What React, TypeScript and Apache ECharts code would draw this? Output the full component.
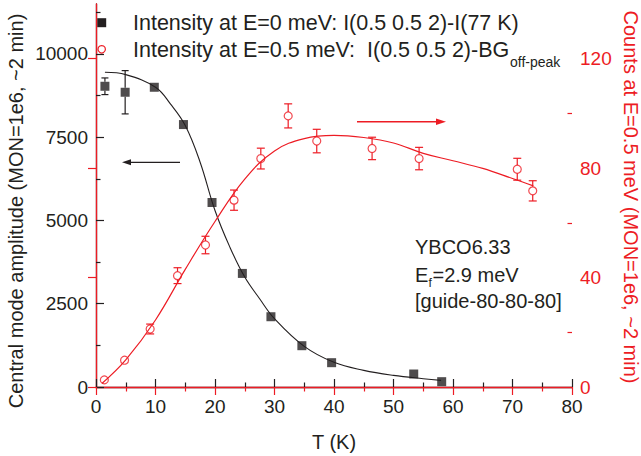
import React, { useEffect, useRef } from "react";
import * as echarts from "echarts";

// ---- data ----
// Black squares: central mode amplitude (left axis)
const blackT = [1.5, 4.9, 9.8, 14.7, 19.5, 24.6, 29.4, 34.6, 39.6, 53.4, 58.1];
const blackV = [9030, 8850, 9000, 7880, 5540, 3410, 2110, 1240, 730, 390, 160];
const blackErr = [250, 650, 100, 100, 100, 80, 60, 50, 40, 40, 30];
// Black guide curve
const fitBlackT = [1.5, 5, 10, 12.5, 15, 17.5, 20, 22.5, 25, 27.5, 30, 35, 40, 45, 50, 55, 58];
const fitBlackV = [9450, 9380, 9000, 8500, 7850, 6750, 5300, 4200, 3300, 2650, 2050, 1220, 740, 500, 350, 250, 200];
// Red open circles: counts at E=0.5 meV (right axis)
const redT = [1.4, 4.8, 9.1, 13.7, 18.4, 23.2, 27.7, 32.3, 37.1, 46.4, 54.3, 70.8, 73.4];
const redV = [2.6, 9.8, 21.2, 40.7, 51.9, 68.3, 83.5, 99.1, 89.9, 87.2, 83.5, 79.6, 71.7];
const redErr = [1.0, 1.0, 1.8, 2.9, 3.2, 3.7, 3.8, 4.4, 4.3, 4.1, 4.1, 4.0, 3.7];
// Red guide curve
const fitRedT = [1, 5, 10, 15, 20, 25, 30, 35, 40, 45, 50, 55, 60, 65, 70, 73.5];
const fitRedV = [1.3, 9.9, 24.5, 43, 60.5, 76, 86.3, 90.8, 92, 91.2, 89.2, 85.4, 82.7, 79.9, 76.2, 73.5];

// ---- axes / ticks ----
const leftMajor = [0, 2500, 5000, 7500, 10000];
const leftMinor = [1250, 3750, 6250, 8750, 11250];
const rightMajor = [0, 40, 80, 120];
const rightMinor = [20, 60, 100];

const legend1 = "Intensity at E=0 meV: I(0.5 0.5 2)-I(77 K)";
const legend2 = "Intensity at E=0.5 meV:  I(0.5 0.5 2)-BG";
const legend2Sub = "off-peak";
const leftTitle = "Central mode amplitude (MON=1e6, ~2 min)";
const rightTitle = "Counts at E=0.5 meV (MON=1e6, ~2 min)";
const xTitle = "T (K)";

const BLACK = "#231f20";
const RED = "#ed1c24";
const FONT = "Liberation Sans, Arial, Helvetica, sans-serif";

function errRender(color: string, cap: number, gap: number) {
  return (params: any, api: any) => {
    const x = api.value(0);
    const y = api.value(1);
    const lo = api.value(2);
    const hi = api.value(3);
    const c = api.coord([x, y]);
    const pLo = api.coord([x, lo]);
    const pHi = api.coord([x, hi]);
    const style = { stroke: color, lineWidth: 1.2 };
    const children: any[] = [];
    if (c[1] - pHi[1] > gap) {
      children.push({ type: "line", shape: { x1: c[0], y1: c[1] - gap, x2: pHi[0], y2: pHi[1] }, style });
      children.push({ type: "line", shape: { x1: pHi[0] - cap, y1: pHi[1], x2: pHi[0] + cap, y2: pHi[1] }, style });
    }
    if (pLo[1] - c[1] > gap) {
      children.push({ type: "line", shape: { x1: c[0], y1: c[1] + gap, x2: pLo[0], y2: pLo[1] }, style });
      children.push({ type: "line", shape: { x1: pLo[0] - cap, y1: pLo[1], x2: pLo[0] + cap, y2: pLo[1] }, style });
    }
    return { type: "group", children };
  };
}

export default function App() {
  const ref = useRef<HTMLDivElement>(null);
  useEffect(() => {
    const chart = echarts.init(ref.current!, null, { renderer: "svg" });
    const tickBase = (color: string) => ({
      axisLine: { show: true, lineStyle: { color, width: 1.3 } },
      splitLine: { show: false },
    });
    const plain = (v: number) => String(v);
    const option: any = {
      animation: false,
      backgroundColor: "#ffffff",
      grid: { left: 96, right: 69, top: 4, bottom: 69, containLabel: false, outerBoundsMode: "none" },
      xAxis: [
        {
          type: "value",
          position: "bottom",
          min: 0,
          max: 80,
          interval: 10,
          ...tickBase(BLACK),
          axisTick: { inside: true, length: 8, lineStyle: { color: BLACK, width: 1.2 } },
          minorTick: { show: true, splitNumber: 2, length: 4.5, lineStyle: { color: BLACK, width: 1.2 } },
          minorSplitLine: { show: false },
          axisLabel: { fontSize: 19, color: BLACK, margin: 10, fontFamily: FONT, formatter: plain },
          name: xTitle,
          nameLocation: "middle",
          nameGap: 45,
          nameTextStyle: { fontSize: 20, color: BLACK, fontFamily: FONT },
        },
        {
          type: "value",
          position: "top",
          min: 0,
          max: 80,
          interval: 10,
          ...tickBase(RED),
          axisTick: { inside: true, length: 8, lineStyle: { color: RED, width: 1.2 } },
          minorTick: { show: true, splitNumber: 2, length: 4.5, lineStyle: { color: RED, width: 1.2 } },
          minorSplitLine: { show: false },
          axisLabel: { show: false },
        },
      ],
      yAxis: [
        {
          type: "value",
          position: "left",
          min: 0,
          max: 11500,
          ...tickBase(BLACK),
          axisTick: { inside: true, length: 8, customValues: leftMajor, lineStyle: { color: BLACK, width: 1.2 } },
          axisLabel: { customValues: leftMajor, fontSize: 19, color: BLACK, margin: 8, fontFamily: FONT, formatter: plain },
        },
        {
          type: "value",
          position: "right",
          min: 0,
          max: 140,
          ...tickBase(RED),
          axisTick: { inside: true, length: 8, customValues: rightMajor, lineStyle: { color: RED, width: 1.2 } },
          axisLabel: { customValues: rightMajor, fontSize: 19, color: RED, margin: 8, fontFamily: FONT, formatter: plain },
        },
        {
          type: "value",
          position: "left",
          min: 0,
          max: 11500,
          axisLine: { show: false },
          splitLine: { show: false },
          axisTick: { inside: true, length: 4.5, customValues: leftMinor, lineStyle: { color: BLACK, width: 1.2 } },
          axisLabel: { show: false },
        },
        {
          type: "value",
          position: "right",
          min: 0,
          max: 140,
          axisLine: { show: false },
          splitLine: { show: false },
          axisTick: { inside: true, length: 4.5, customValues: rightMinor, lineStyle: { color: RED, width: 1.2 } },
          axisLabel: { show: false },
        },
      ],
      series: [
        {
          name: "fitBlack",
          type: "line",
          xAxisIndex: 0,
          yAxisIndex: 0,
          data: fitBlackT.map((t, i) => [t, fitBlackV[i]]),
          smooth: 0.4,
          showSymbol: false,
          lineStyle: { color: BLACK, width: 1.1 },
          z: 2,
        },
        {
          name: "errBlack",
          type: "custom",
          xAxisIndex: 0,
          yAxisIndex: 0,
          data: blackT.map((t, i) => [t, blackV[i], blackV[i] - blackErr[i], blackV[i] + blackErr[i]]),
          encode: { x: 0, y: [1, 2, 3] },
          renderItem: errRender(BLACK, 3.5, 4.5),
          z: 3,
        },
        {
          name: legend1,
          type: "scatter",
          xAxisIndex: 0,
          yAxisIndex: 0,
          data: blackT.map((t, i) => [t, blackV[i]]),
          symbol: "rect",
          symbolSize: 9,
          itemStyle: { color: BLACK },
          z: 4,
        },
        {
          name: "fitRed",
          type: "line",
          xAxisIndex: 0,
          yAxisIndex: 1,
          data: fitRedT.map((t, i) => [t, fitRedV[i]]),
          smooth: 0.4,
          showSymbol: false,
          lineStyle: { color: RED, width: 1.2 },
          z: 2,
        },
        {
          name: "errRed",
          type: "custom",
          xAxisIndex: 0,
          yAxisIndex: 1,
          data: redT.map((t, i) => [t, redV[i], redV[i] - redErr[i], redV[i] + redErr[i]]),
          encode: { x: 0, y: [1, 2, 3] },
          renderItem: errRender(RED, 4, 4),
          z: 3,
        },
        {
          name: legend2,
          type: "scatter",
          xAxisIndex: 0,
          yAxisIndex: 1,
          data: redT.map((t, i) => [t, redV[i]]),
          symbol: "circle",
          symbolSize: 8,
          itemStyle: { color: "rgba(0,0,0,0)", borderColor: RED, borderWidth: 1.2 },
          z: 4,
        },
      ],
      graphic: [
        // legend
        { type: "rect", shape: { x: 97.2, y: 18.2, width: 9, height: 9 }, style: { fill: BLACK } },
        { type: "circle", shape: { cx: 101.7, cy: 49.3, r: 3.7 }, style: { fill: "none", stroke: RED, lineWidth: 1.2 } },
        { type: "text", x: 133, y: 23, style: { text: legend1, fontSize: 21.5, fill: BLACK, fontFamily: FONT, verticalAlign: "middle", align: "left" } },
        { type: "text", x: 133, y: 49.5, style: { text: legend2, fontSize: 21.5, fill: BLACK, fontFamily: FONT, verticalAlign: "middle", align: "left" } },
        { type: "text", x: 510, y: 62, style: { text: legend2Sub, fontSize: 14, fill: BLACK, fontFamily: FONT, verticalAlign: "middle", align: "left" } },
        // arrows
        { type: "line", shape: { x1: 180, y1: 162.3, x2: 128, y2: 162.3 }, style: { stroke: BLACK, lineWidth: 1.3 } },
        { type: "polygon", shape: { points: [[122, 162.3], [131, 159.3], [131, 165.3]] }, style: { fill: BLACK } },
        { type: "line", shape: { x1: 357, y1: 121.7, x2: 440, y2: 121.7 }, style: { stroke: RED, lineWidth: 1.5 } },
        { type: "polygon", shape: { points: [[446, 121.7], [436, 118.5], [436, 124.9]] }, style: { fill: RED } },
        // annotation
        { type: "text", x: 415, y: 247, style: { text: "YBCO6.33", fontSize: 20, fill: BLACK, fontFamily: FONT, verticalAlign: "middle" } },
        { type: "text", x: 415, y: 274.5, style: { text: "E", fontSize: 20, fill: BLACK, fontFamily: FONT, verticalAlign: "middle" } },
        { type: "text", x: 428.6, y: 283, style: { text: "f", fontSize: 12, fill: BLACK, fontFamily: FONT, verticalAlign: "middle" } },
        { type: "text", x: 432.5, y: 274.5, style: { text: "=2.9 meV", fontSize: 20, fill: BLACK, fontFamily: FONT, verticalAlign: "middle" } },
        { type: "text", x: 415, y: 301, style: { text: "[guide-80-80-80]", fontSize: 20, fill: BLACK, fontFamily: FONT, verticalAlign: "middle" } },
        // axis titles
        { type: "text", x: 16, y: 211, rotation: Math.PI / 2, style: { text: leftTitle, fontSize: 20, fill: BLACK, fontFamily: FONT, align: "center", verticalAlign: "middle" } },
        { type: "text", x: 631, y: 197, rotation: -Math.PI / 2, style: { text: rightTitle, fontSize: 20, fill: RED, fontFamily: FONT, align: "center", verticalAlign: "middle" } },
      ],
    };
    chart.setOption(option);
    return () => chart.dispose();
  }, []);
  return <div ref={ref} style={{ position: "fixed", left: 0, top: 0, width: 641, height: 456 }} />;
}
